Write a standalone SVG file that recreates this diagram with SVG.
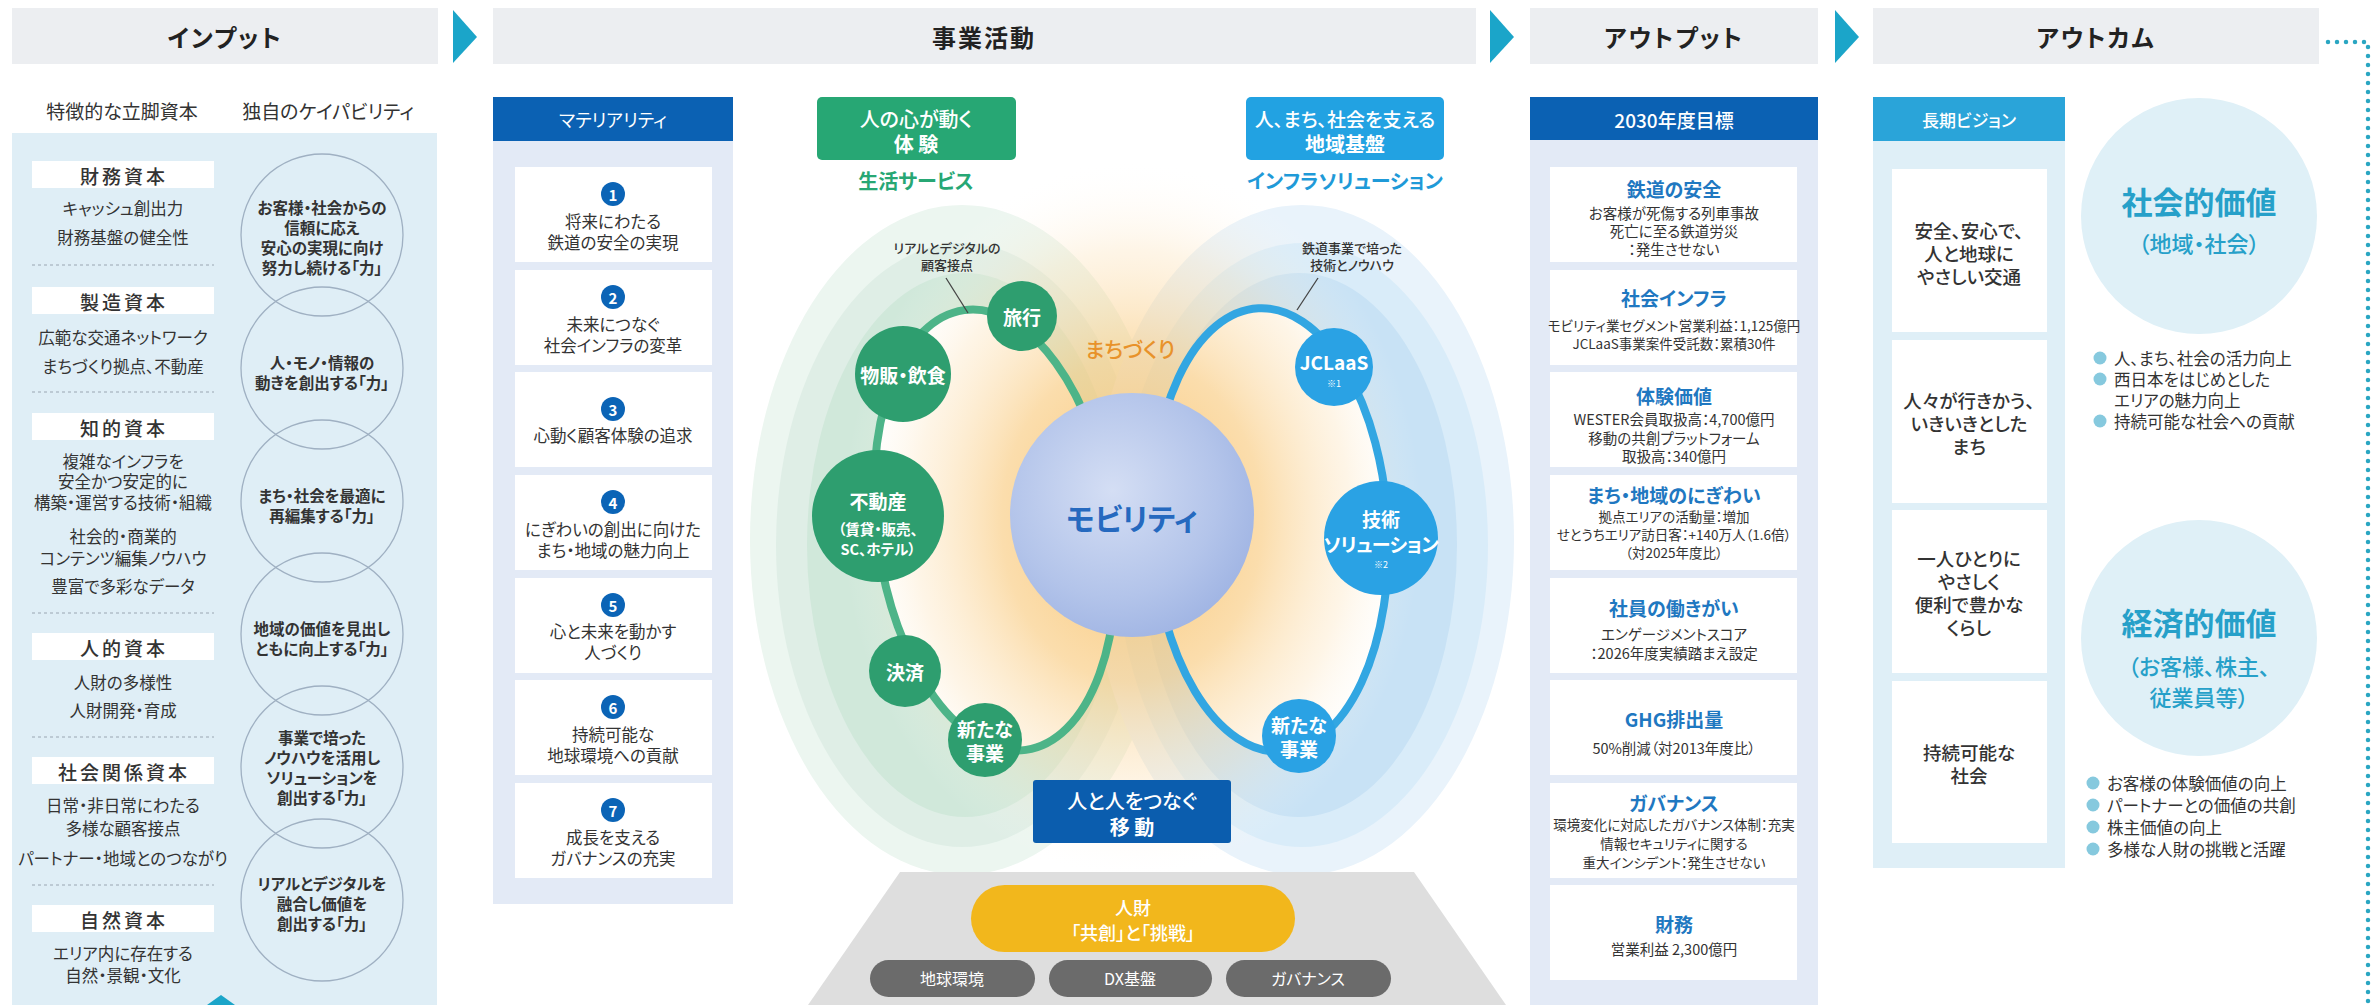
<svg xmlns="http://www.w3.org/2000/svg" width="2374" height="1005" viewBox="0 0 2374 1005">
<defs>
<style>
.t{font-family:"Noto Sans CJK JP","Noto Sans",sans-serif;fill:#333;text-anchor:middle;dominant-baseline:central;font-feature-settings:"palt" 1;}
.hd{font-size:24px;font-weight:700;fill:#222;letter-spacing:2px;}
.hdbar{fill:#eceef1;}
.arr{fill:#1ba5c9;}
.sub{font-size:19px;fill:#333;}
.lab{fill:#fff;}
.labt{font-size:19px;font-weight:500;letter-spacing:3px;fill:#333;}
.body{font-size:16.5px;fill:#333;}
.sep{stroke:#9aa6b2;stroke-width:1;stroke-dasharray:3 3;fill:none;}
.cap{fill:none;stroke:#9fb0c2;stroke-width:1.3;}
.capt{font-size:15.5px;font-weight:700;fill:#333;}
.bluehd{fill:#0b61b3;}
.whtxt{fill:#fff;}
.card{fill:#fff;}
.num{fill:#0b64b6;}
.numt{font-size:15px;font-weight:700;fill:#fff;}
.mat{font-size:16.5px;fill:#333;}
.otit{font-size:19px;font-weight:700;fill:#1f78c1;}
.otx{font-size:14.5px;fill:#333;}
.osm{font-size:13.5px;fill:#333;}
.vis{font-size:18.5px;font-weight:500;fill:#333;}
.bul{fill:#86c9de;}
.bult{font-size:16.5px;fill:#333;text-anchor:start;}
.gb{fill:#2e9e6f;}
.bb{fill:#2aa2e4;}
.bt{font-size:19px;font-weight:700;fill:#fff;}
.lead{stroke:#444;stroke-width:1.3;fill:none;}
</style>
<radialGradient id="glow" cx="0.5" cy="0.5" r="0.5">
<stop offset="0" stop-color="#f7be62" stop-opacity="0.9"/>
<stop offset="0.45" stop-color="#f9cb80" stop-opacity="0.65"/>
<stop offset="0.75" stop-color="#fce0b3" stop-opacity="0.32"/>
<stop offset="1" stop-color="#ffffff" stop-opacity="0"/>
</radialGradient>
<radialGradient id="sph" cx="0.42" cy="0.4" r="0.62">
<stop offset="0" stop-color="#d4def4"/>
<stop offset="0.7" stop-color="#b3c4ea"/>
<stop offset="1" stop-color="#a2b6e4"/>
</radialGradient>
</defs>

<rect width="2374" height="1005" fill="#ffffff"/>

<!-- headers -->
<g id="header-input">
<rect class="hdbar" x="12" y="8" width="426" height="56"/>
<text class="t hd" x="225" y="36">インプット</text>
</g>
<g id="header-business">
<rect class="hdbar" x="493" y="8" width="983" height="56"/>
<text class="t hd" x="984" y="36">事業活動</text>
</g>
<g id="header-output">
<rect class="hdbar" x="1530" y="8" width="288" height="56"/>
<text class="t hd" x="1674" y="36">アウトプット</text>
</g>
<g id="header-outcome">
<rect class="hdbar" x="1873" y="8" width="446" height="56"/>
<text class="t hd" x="2096" y="36">アウトカム</text>
</g>

<!-- input column -->
<g id="input-column">
<text class="t sub" x="122" y="110">特徴的な立脚資本</text>
<text class="t sub" x="328" y="110">独自のケイパビリティ</text>
<rect x="12" y="133" width="425" height="872" fill="#dfeef6"/>
<path d="M207 1005 L221 995 L235 1005 Z" fill="#1ba5c9"/>
</g>

<g id="capital-financial">
<rect class="lab" x="32" y="161" width="182" height="27"/>
<text class="t labt" x="124" y="175">財務資本</text>
<text class="t body" x="123" y="208">キャッシュ創出力</text>
<text class="t body" x="123" y="237">財務基盤の健全性</text>
<line class="sep" x1="32" y1="265" x2="214" y2="265"/>
</g>
<g id="capital-manufactured">
<rect class="lab" x="32" y="287" width="182" height="27"/>
<text class="t labt" x="124" y="301">製造資本</text>
<text class="t body" x="123" y="337">広範な交通ネットワーク</text>
<text class="t body" x="123" y="366">まちづくり拠点、不動産</text>
<line class="sep" x1="32" y1="392" x2="214" y2="392"/>
</g>
<g id="capital-intellectual">
<rect class="lab" x="32" y="413" width="182" height="27"/>
<text class="t labt" x="124" y="427">知的資本</text>
<text class="t body" x="123" y="461">複雑なインフラを</text>
<text class="t body" x="123" y="481">安全かつ安定的に</text>
<text class="t body" x="123" y="502">構築・運営する技術・組織</text>
<text class="t body" x="123" y="536">社会的・商業的</text>
<text class="t body" x="123" y="558">コンテンツ編集ノウハウ</text>
<text class="t body" x="123" y="586">豊富で多彩なデータ</text>
<line class="sep" x1="32" y1="613" x2="214" y2="613"/>
</g>
<g id="capital-human">
<rect class="lab" x="32" y="633" width="182" height="27"/>
<text class="t labt" x="124" y="647">人的資本</text>
<text class="t body" x="123" y="682">人財の多様性</text>
<text class="t body" x="123" y="710">人財開発・育成</text>
<line class="sep" x1="32" y1="737" x2="214" y2="737"/>
</g>
<g id="capital-social">
<rect class="lab" x="32" y="757" width="182" height="27"/>
<text class="t labt" x="124" y="771">社会関係資本</text>
<text class="t body" x="123" y="805">日常・非日常にわたる</text>
<text class="t body" x="123" y="828">多様な顧客接点</text>
<text class="t body" x="123" y="858">パートナー・地域とのつながり</text>
<line class="sep" x1="32" y1="885" x2="214" y2="885"/>
</g>
<g id="capital-natural">
<rect class="lab" x="32" y="905" width="182" height="27"/>
<text class="t labt" x="124" y="919">自然資本</text>
<text class="t body" x="123" y="953">エリア内に存在する</text>
<text class="t body" x="123" y="975">自然・景観・文化</text>
</g>

<g id="capability-1">
<circle class="cap" cx="322" cy="235" r="81"/>
<text class="t capt" x="322" y="207">お客様・社会からの</text>
<text class="t capt" x="322" y="227">信頼に応え</text>
<text class="t capt" x="322" y="247">安心の実現に向け</text>
<text class="t capt" x="322" y="267">努力し続ける「力」</text>
</g>
<g id="capability-2">
<circle class="cap" cx="322" cy="368" r="81"/>
<text class="t capt" x="322" y="362">人・モノ・情報の</text>
<text class="t capt" x="322" y="382">動きを創出する「力」</text>
</g>
<g id="capability-3">
<circle class="cap" cx="322" cy="501" r="81"/>
<text class="t capt" x="322" y="495">まち・社会を最適に</text>
<text class="t capt" x="322" y="515">再編集する「力」</text>
</g>
<g id="capability-4">
<circle class="cap" cx="322" cy="634" r="81"/>
<text class="t capt" x="322" y="628">地域の価値を見出し</text>
<text class="t capt" x="322" y="648">ともに向上する「力」</text>
</g>
<g id="capability-5">
<circle class="cap" cx="322" cy="767" r="81"/>
<text class="t capt" x="322" y="737">事業で培った</text>
<text class="t capt" x="322" y="757">ノウハウを活用し</text>
<text class="t capt" x="322" y="777">ソリューションを</text>
<text class="t capt" x="322" y="797">創出する「力」</text>
</g>
<g id="capability-6">
<circle class="cap" cx="322" cy="900" r="81"/>
<text class="t capt" x="322" y="883">リアルとデジタルを</text>
<text class="t capt" x="322" y="903">融合し価値を</text>
<text class="t capt" x="322" y="923">創出する「力」</text>
</g>

<!-- materiality -->
<g id="materiality">
<rect x="493" y="141" width="240" height="763" fill="#e3eaf6"/>
<rect class="bluehd" x="493" y="97" width="240" height="44"/>
<text class="t whtxt" x="613" y="119" font-size="18">マテリアリティ</text>
</g>
<g id="materiality-1">
<rect class="card" x="515" y="167" width="197" height="95"/>
<circle class="num" cx="613" cy="194" r="12"/><text class="t numt" x="613" y="194">1</text>
<text class="t mat" x="613" y="221">将来にわたる</text>
<text class="t mat" x="613" y="242">鉄道の安全の実現</text>
</g>
<g id="materiality-2">
<rect class="card" x="515" y="270" width="197" height="95"/>
<circle class="num" cx="613" cy="297" r="12"/><text class="t numt" x="613" y="297">2</text>
<text class="t mat" x="613" y="324">未来につなぐ</text>
<text class="t mat" x="613" y="345">社会インフラの変革</text>
</g>
<g id="materiality-3">
<rect class="card" x="515" y="372" width="197" height="95"/>
<circle class="num" cx="613" cy="409" r="12"/><text class="t numt" x="613" y="409">3</text>
<text class="t mat" x="613" y="435">心動く顧客体験の追求</text>
</g>
<g id="materiality-4">
<rect class="card" x="515" y="475" width="197" height="95"/>
<circle class="num" cx="613" cy="502" r="12"/><text class="t numt" x="613" y="502">4</text>
<text class="t mat" x="613" y="529">にぎわいの創出に向けた</text>
<text class="t mat" x="613" y="550">まち・地域の魅力向上</text>
</g>
<g id="materiality-5">
<rect class="card" x="515" y="578" width="197" height="95"/>
<circle class="num" cx="613" cy="605" r="12"/><text class="t numt" x="613" y="605">5</text>
<text class="t mat" x="613" y="631">心と未来を動かす</text>
<text class="t mat" x="613" y="652">人づくり</text>
</g>
<g id="materiality-6">
<rect class="card" x="515" y="680" width="197" height="95"/>
<circle class="num" cx="613" cy="707" r="12"/><text class="t numt" x="613" y="707">6</text>
<text class="t mat" x="613" y="734">持続可能な</text>
<text class="t mat" x="613" y="755">地球環境への貢献</text>
</g>
<g id="materiality-7">
<rect class="card" x="515" y="783" width="197" height="95"/>
<circle class="num" cx="613" cy="810" r="12"/><text class="t numt" x="613" y="810">7</text>
<text class="t mat" x="613" y="837">成長を支える</text>
<text class="t mat" x="613" y="858">ガバナンスの充実</text>
</g>

<!-- business activity centre -->
<g id="arches">
<ellipse cx="962" cy="540" rx="212" ry="335" fill="#ecf6f0"/>
<ellipse cx="962" cy="545" rx="186" ry="302" fill="#dfeee6"/>
<ellipse cx="965" cy="545" rx="158" ry="272" fill="#d0e8da"/>
<ellipse cx="1302" cy="540" rx="212" ry="335" fill="#e9f3fb"/>
<ellipse cx="1302" cy="545" rx="186" ry="302" fill="#d9ecf9"/>
<ellipse cx="1299" cy="545" rx="158" ry="272" fill="#c8e2f5"/>
<ellipse cx="995" cy="530" rx="118" ry="222" transform="rotate(-8 995 530)" fill="#ffffff"/>
<ellipse cx="1270" cy="530" rx="118" ry="222" transform="rotate(-3 1270 530)" fill="#ffffff"/>
<ellipse cx="1132" cy="520" rx="290" ry="360" fill="url(#glow)"/>
</g>

<g id="label-experience">
<rect x="817" y="97" width="199" height="63" rx="5" fill="#27a774"/>
<text class="t whtxt" x="916" y="118" font-size="20" font-weight="500">人の心が動く</text>
<text class="t whtxt" x="916" y="143" font-size="20" font-weight="700">体 験</text>
<text class="t" x="916" y="180" font-size="20" font-weight="700" style="fill:#27a774">生活サービス</text>
</g>
<g id="label-infrastructure">
<rect x="1246" y="97" width="198" height="63" rx="5" fill="#22a2e2"/>
<text class="t whtxt" x="1345" y="118" font-size="19" font-weight="500">人、まち、社会を支える</text>
<text class="t whtxt" x="1345" y="143" font-size="20" font-weight="700">地域基盤</text>
<text class="t" x="1345" y="180" font-size="20" font-weight="700" style="fill:#1f9ad8">インフラソリューション</text>
</g>

<g id="connectors">
<ellipse cx="995" cy="530" rx="118" ry="222" transform="rotate(-8 995 530)" fill="none" stroke="#4db488" stroke-width="8"/>
<ellipse cx="1270" cy="530" rx="118" ry="222" transform="rotate(-3 1270 530)" fill="none" stroke="#32a6e2" stroke-width="8"/>
<line class="lead" x1="946" y1="278" x2="968" y2="313"/>
<line class="lead" x1="1318" y1="278" x2="1297" y2="310"/>
<path class="arr" d="M453 10 L477 37 L453 63 Z"/>
<path class="arr" d="M1490 10 L1514 37 L1490 63 Z"/>
<path class="arr" d="M1835 10 L1859 37 L1835 63 Z"/>
<path d="M2328 42 L2368 42 L2368 1005" fill="none" stroke="#2aa6c2" stroke-width="4.5" stroke-linecap="round" stroke-dasharray="0 9"/>
</g>

<g id="note-touchpoints">
<text class="t" x="947" y="247" font-size="13" font-weight="500">リアルとデジタルの</text>
<text class="t" x="947" y="264" font-size="13" font-weight="500">顧客接点</text>
</g>
<g id="note-know-how">
<text class="t" x="1352" y="247" font-size="13" font-weight="500">鉄道事業で培った</text>
<text class="t" x="1352" y="264" font-size="13" font-weight="500">技術とノウハウ</text>
</g>
<g id="label-machizukuri">
<text class="t" x="1130" y="348" font-size="21" font-weight="500" style="fill:#e8922a">まちづくり</text>
</g>

<g id="mobility">
<circle cx="1132" cy="515" r="122" fill="url(#sph)"/>
<text class="t" x="1132" y="517" font-size="30" font-weight="700" style="fill:#2569bf">モビリティ</text>
</g>

<g id="bubble-travel">
<circle class="gb" cx="1022" cy="316" r="35"/>
<text class="t bt" x="1022" y="316">旅行</text>
</g>
<g id="bubble-retail">
<circle class="gb" cx="903" cy="374" r="48"/>
<text class="t bt" x="903" y="374">物販・飲食</text>
</g>
<g id="bubble-realestate">
<circle class="gb" cx="878" cy="516" r="66"/>
<text class="t bt" x="878" y="500" font-size="20">不動産</text>
<text class="t whtxt" x="878" y="528" font-size="14.5" font-weight="700">（賃貸・販売、</text>
<text class="t whtxt" x="878" y="548" font-size="14.5" font-weight="700">SC、ホテル）</text>
</g>
<g id="bubble-payment">
<circle class="gb" cx="905" cy="671" r="36"/>
<text class="t bt" x="905" y="671">決済</text>
</g>
<g id="bubble-newbiz-left">
<circle class="gb" cx="985" cy="740" r="37"/>
<text class="t bt" x="985" y="728">新たな</text>
<text class="t bt" x="985" y="752">事業</text>
</g>
<g id="bubble-jclaas">
<circle class="bb" cx="1334" cy="367" r="39"/>
<text class="t bt" x="1334" y="361" font-size="19">JCLaaS</text>
<text class="t whtxt" x="1334" y="383" font-size="9">※1</text>
</g>
<g id="bubble-tech">
<circle class="bb" cx="1381" cy="538" r="57"/>
<text class="t bt" x="1381" y="518">技術</text>
<text class="t bt" x="1381" y="543" font-size="15.5" letter-spacing="-0.5">ソリューション</text>
<text class="t whtxt" x="1381" y="564" font-size="9">※2</text>
</g>
<g id="bubble-newbiz-right">
<circle class="bb" cx="1299" cy="736" r="37"/>
<text class="t bt" x="1299" y="724">新たな</text>
<text class="t bt" x="1299" y="748">事業</text>
</g>

<g id="label-movement">
<rect x="1033" y="780" width="198" height="63" rx="3" fill="#0b5dae"/>
<text class="t whtxt" x="1132" y="800" font-size="20" font-weight="500">人と人をつなぐ</text>
<text class="t whtxt" x="1132" y="826" font-size="20" font-weight="700">移 動</text>
</g>

<g id="foundation">
<polygon points="900,872 1414,872 1506,1005 808,1005" fill="#dedede"/>
</g>
<g id="foundation-people">
<rect x="971" y="885" width="324" height="67" rx="33.5" fill="#f2b71c"/>
<text class="t whtxt" x="1133" y="907" font-size="18" font-weight="500">人財</text>
<text class="t whtxt" x="1133" y="932" font-size="18" font-weight="500">「共創」と「挑戦」</text>
</g>
<g id="foundation-env">
<rect x="870" y="960" width="165" height="37" rx="18.5" fill="#6b6b6b"/>
<text class="t whtxt" x="952" y="978" font-size="16">地球環境</text>
</g>
<g id="foundation-dx">
<rect x="1049" y="960" width="163" height="37" rx="18.5" fill="#6b6b6b"/>
<text class="t whtxt" x="1130" y="978" font-size="16">DX基盤</text>
</g>
<g id="foundation-gov">
<rect x="1226" y="960" width="165" height="37" rx="18.5" fill="#6b6b6b"/>
<text class="t whtxt" x="1308" y="978" font-size="16">ガバナンス</text>
</g>

<!-- output column -->
<g id="output-targets">
<rect x="1530" y="140" width="288" height="865" fill="#e3eaf6"/>
<rect class="bluehd" x="1530" y="97" width="288" height="43"/>
<text class="t whtxt" x="1674" y="119" font-size="19" font-weight="500">2030年度目標</text>
</g>
<g id="output-safety">
<rect class="card" x="1550" y="167" width="247" height="95"/>
<text class="t otit" x="1674" y="188">鉄道の安全</text>
<text class="t otx" x="1674" y="212">お客様が死傷する列車事故</text>
<text class="t otx" x="1674" y="230">死亡に至る鉄道労災</text>
<text class="t otx" x="1674" y="248">：発生させない</text>
</g>
<g id="output-infra">
<rect class="card" x="1550" y="270" width="247" height="95"/>
<text class="t otit" x="1674" y="297">社会インフラ</text>
<text class="t osm" x="1674" y="325">モビリティ業セグメント営業利益：1,125億円</text>
<text class="t osm" x="1674" y="343">JCLaaS事業案件受託数：累積30件</text>
</g>
<g id="output-experience">
<rect class="card" x="1550" y="372" width="247" height="95"/>
<text class="t otit" x="1674" y="395">体験価値</text>
<text class="t otx" x="1674" y="418">WESTER会員取扱高：4,700億円</text>
<text class="t otx" x="1674" y="437">移動の共創プラットフォーム</text>
<text class="t otx" x="1674" y="455">取扱高：340億円</text>
</g>
<g id="output-town">
<rect class="card" x="1550" y="475" width="247" height="95"/>
<text class="t otit" x="1674" y="494">まち・地域のにぎわい</text>
<text class="t osm" x="1674" y="516">拠点エリアの活動量：増加</text>
<text class="t osm" x="1674" y="534">せとうちエリア訪日客：+140万人（1.6倍）</text>
<text class="t osm" x="1674" y="552" font-size="12.5">（対2025年度比）</text>
</g>
<g id="output-employees">
<rect class="card" x="1550" y="578" width="247" height="95"/>
<text class="t otit" x="1674" y="607">社員の働きがい</text>
<text class="t otx" x="1674" y="633">エンゲージメントスコア</text>
<text class="t otx" x="1674" y="652">：2026年度実績踏まえ設定</text>
</g>
<g id="output-ghg">
<rect class="card" x="1550" y="680" width="247" height="95"/>
<text class="t otit" x="1674" y="718">GHG排出量</text>
<text class="t otx" x="1674" y="747">50%削減（対2013年度比）</text>
</g>
<g id="output-governance">
<rect class="card" x="1550" y="783" width="247" height="95"/>
<text class="t otit" x="1674" y="802">ガバナンス</text>
<text class="t osm" x="1674" y="824">環境変化に対応したガバナンス体制：充実</text>
<text class="t osm" x="1674" y="843">情報セキュリティに関する</text>
<text class="t osm" x="1674" y="862">重大インシデント：発生させない</text>
</g>
<g id="output-finance">
<rect class="card" x="1550" y="885" width="247" height="95"/>
<text class="t otit" x="1674" y="923">財務</text>
<text class="t otx" x="1674" y="948">営業利益 2,300億円</text>
</g>

<!-- outcome -->
<g id="vision">
<rect x="1873" y="141" width="192" height="727" fill="#dfeff7"/>
<rect x="1873" y="97" width="192" height="44" fill="#2aa4d9"/>
<text class="t whtxt" x="1969" y="119" font-size="17" font-weight="500">長期ビジョン</text>
</g>
<g id="vision-1">
<rect class="card" x="1892" y="169" width="155" height="163"/>
<text class="t vis" x="1969" y="230">安全、安心で、</text>
<text class="t vis" x="1969" y="253">人と地球に</text>
<text class="t vis" x="1969" y="276">やさしい交通</text>
</g>
<g id="vision-2">
<rect class="card" x="1892" y="340" width="155" height="163"/>
<text class="t vis" x="1969" y="400">人々が行きかう、</text>
<text class="t vis" x="1969" y="423">いきいきとした</text>
<text class="t vis" x="1969" y="446">まち</text>
</g>
<g id="vision-3">
<rect class="card" x="1892" y="510" width="155" height="163"/>
<text class="t vis" x="1969" y="558">一人ひとりに</text>
<text class="t vis" x="1969" y="581">やさしく</text>
<text class="t vis" x="1969" y="604">便利で豊かな</text>
<text class="t vis" x="1969" y="627">くらし</text>
</g>
<g id="vision-4">
<rect class="card" x="1892" y="681" width="155" height="162"/>
<text class="t vis" x="1969" y="752">持続可能な</text>
<text class="t vis" x="1969" y="775">社会</text>
</g>

<g id="value-social">
<circle cx="2199" cy="216" r="118" fill="#dff0f7"/>
<text class="t" x="2199" y="200" font-size="31" font-weight="700" style="fill:#26a0c9">社会的価値</text>
<text class="t" x="2199" y="242" font-size="22" font-weight="500" style="fill:#26a0c9">（地域・社会）</text>
<circle class="bul" cx="2100" cy="358" r="6.5"/>
<text class="t bult" x="2114" y="358">人、まち、社会の活力向上</text>
<circle class="bul" cx="2100" cy="379" r="6.5"/>
<text class="t bult" x="2114" y="379">西日本をはじめとした</text>
<text class="t bult" x="2114" y="400">エリアの魅力向上</text>
<circle class="bul" cx="2100" cy="421" r="6.5"/>
<text class="t bult" x="2114" y="421">持続可能な社会への貢献</text>
</g>
<g id="value-economic">
<circle cx="2199" cy="638" r="118" fill="#dff0f7"/>
<text class="t" x="2199" y="621" font-size="31" font-weight="700" style="fill:#26a0c9">経済的価値</text>
<text class="t" x="2199" y="665" font-size="22" font-weight="500" style="fill:#26a0c9">（お客様、株主、</text>
<text class="t" x="2199" y="696" font-size="22" font-weight="500" style="fill:#26a0c9">従業員等）</text>
<circle class="bul" cx="2093" cy="783" r="6.5"/>
<text class="t bult" x="2107" y="783">お客様の体験価値の向上</text>
<circle class="bul" cx="2093" cy="805" r="6.5"/>
<text class="t bult" x="2107" y="805">パートナーとの価値の共創</text>
<circle class="bul" cx="2093" cy="827" r="6.5"/>
<text class="t bult" x="2107" y="827">株主価値の向上</text>
<circle class="bul" cx="2093" cy="849" r="6.5"/>
<text class="t bult" x="2107" y="849">多様な人財の挑戦と活躍</text>
</g>
</svg>
